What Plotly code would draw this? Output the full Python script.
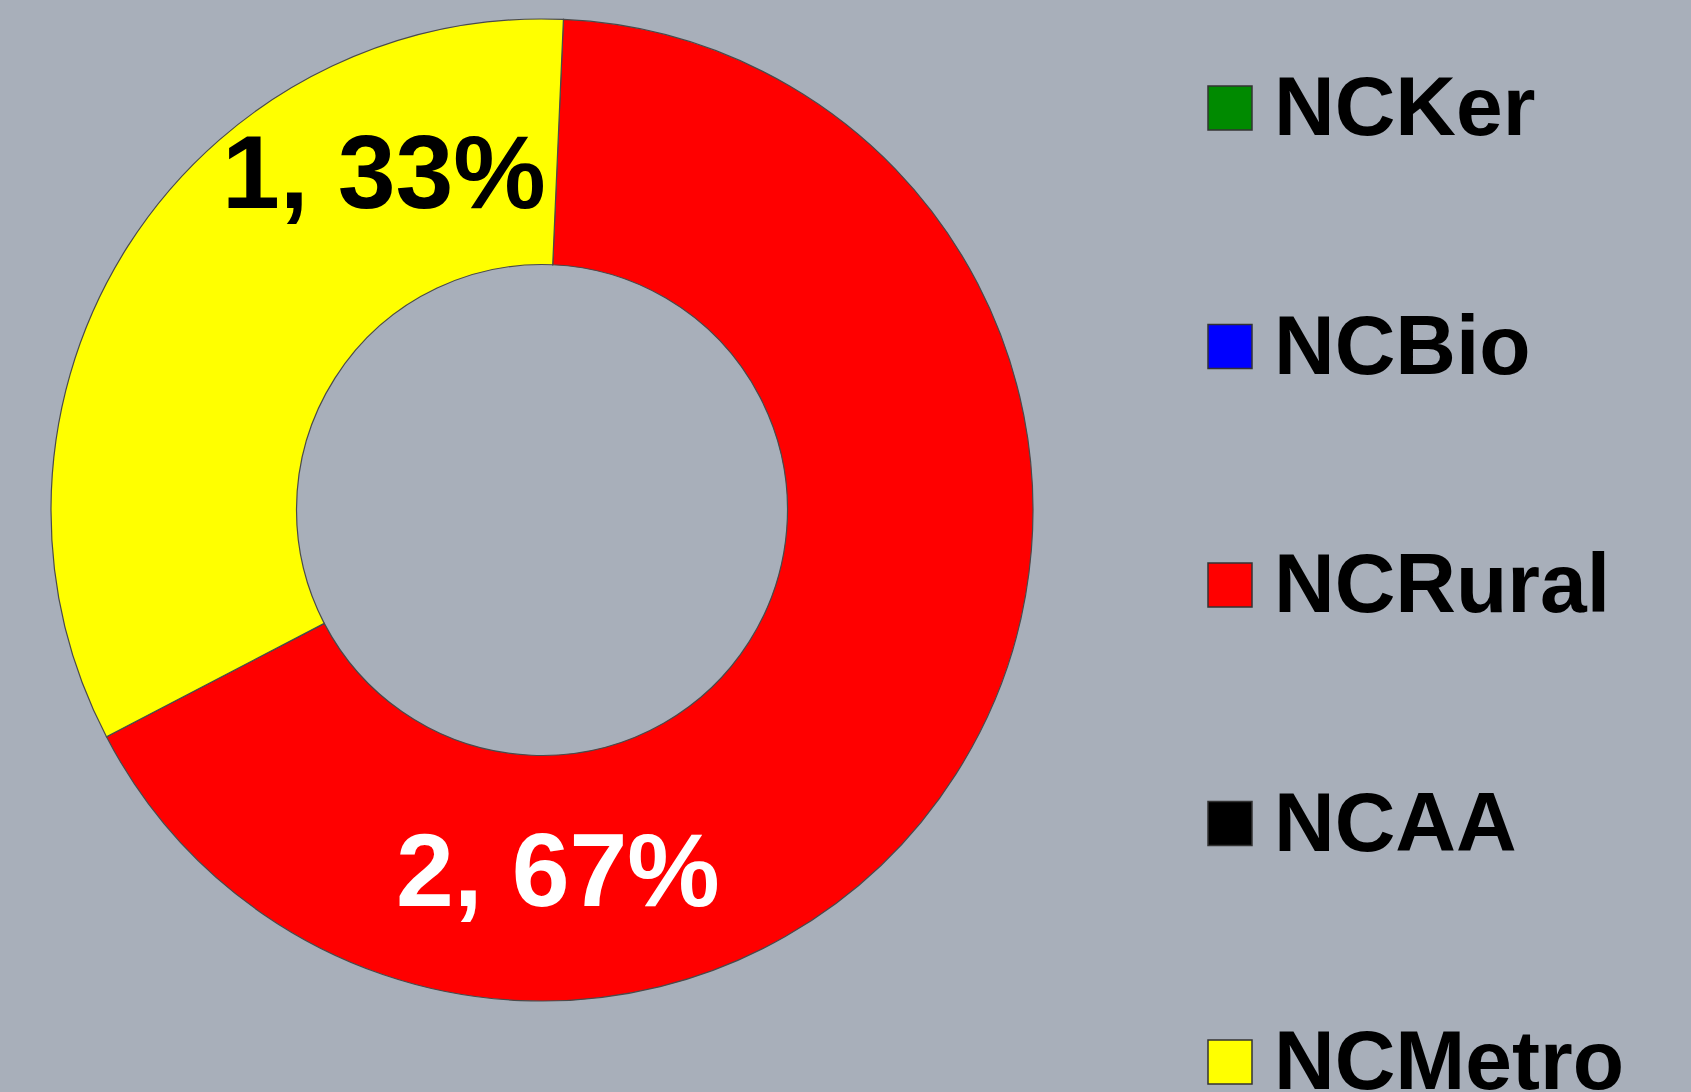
import plotly.graph_objects as go

# chart data
categories = ["NCKer", "NCBio", "NCRural", "NCAA", "NCMetro"]
counts = [0, 0, 2, 0, 1]
colors = ["#008a00", "#0000ff", "#ff0000", "#000000", "#ffff00"]
label_colors = ["black", "black", "white", "white", "black"]

W, H = 1691, 1092
BG = "#a8afba"
FONT = "Liberation Sans, Arial, sans-serif"

fig = go.Figure(go.Pie(
    labels=categories,
    values=counts,
    hole=0.5,
    sort=False,
    direction="clockwise",
    rotation=2.5,
    marker=dict(colors=colors, line=dict(color="#4a4a4a", width=1.2)),
    textinfo="none",
    showlegend=False,
    domain=dict(x=[51 / W, 1033 / W], y=[1 - 1001 / H, 1 - 19 / H]),
))

# slice labels "value, percent" (positioned like the original)
total = sum(counts)
label_pos = {"NCMetro": (384, 172), "NCRural": (558, 870)}
for name, v, tc in zip(categories, counts, label_colors):
    if v == 0:
        continue
    px, py = label_pos[name]
    fig.add_annotation(
        x=px / W, y=1 - py / H, xref="paper", yref="paper",
        text=f"{v}, {v / total:.0%}", showarrow=False,
        xanchor="center", yanchor="middle",
        font=dict(family=FONT, size=104, color=tc, weight="bold"),
    )

# legend, big squares like the source slide
row0, step = 108, 238.5
for i, (name, col) in enumerate(zip(categories, colors)):
    yc = row0 + step * i
    fig.add_shape(
        type="rect", xref="paper", yref="paper",
        x0=1208 / W, x1=1252 / W, y0=1 - (yc + 22) / H, y1=1 - (yc - 22) / H,
        fillcolor=col, line=dict(color="#333333", width=1.5),
    )
    fig.add_annotation(
        x=1272 / W, y=1 - (yc - 2) / H, xref="paper", yref="paper",
        text=name, showarrow=False, xanchor="left", yanchor="middle",
        font=dict(family=FONT, size=84, color="black", weight="bold"),
    )

fig.update_layout(
    width=W, height=H,
    margin=dict(l=0, r=0, t=0, b=0),
    paper_bgcolor=BG, plot_bgcolor=BG,
)

# drop the browser's default body margin so the figure sits at 0,0
fig.write_html("out.html", config={"displayModeBar": False},
               post_script="document.body.style.margin='0';")
